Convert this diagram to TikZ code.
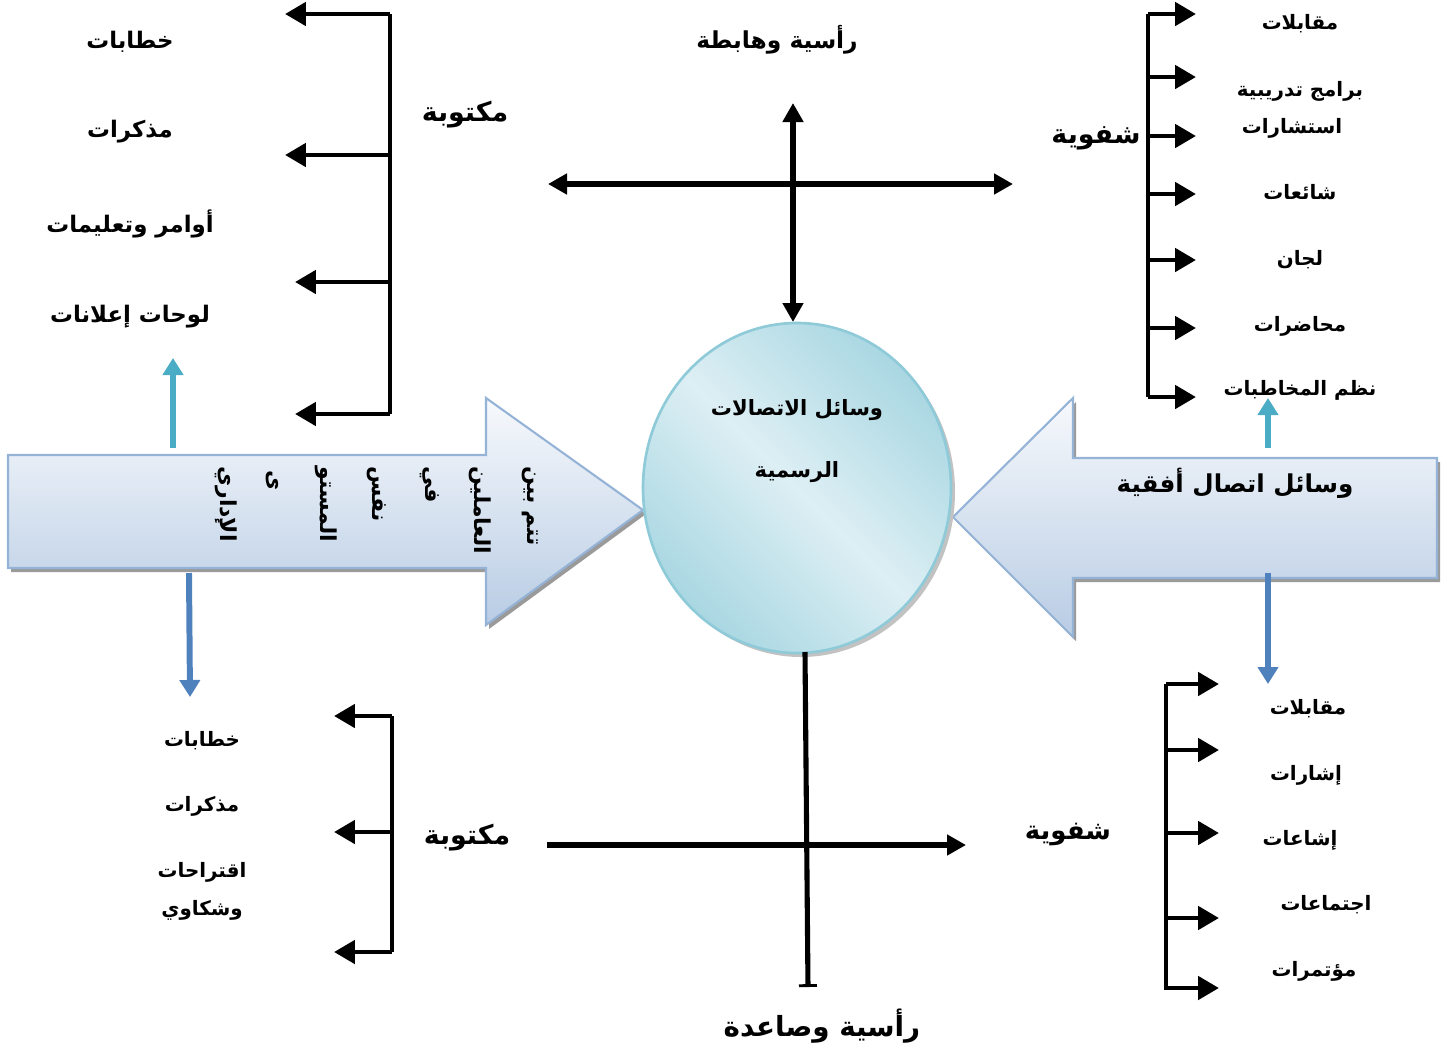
\documentclass[tikz,border=0pt]{standalone}
\usepackage{fontspec}
\usetikzlibrary{arrows.meta}
\TeXXeTstate=1
\newfontfamily\arabicfont[Script=Arabic,BoldFont={DejaVu Sans Bold}]{DejaVu Sans}
\newcommand{\ar}[1]{{\arabicfont\beginR #1\endR}}
\definecolor{tealup}{HTML}{4BACC6}
\definecolor{bluedown}{HTML}{4F81BD}
\definecolor{arrowedge}{HTML}{95B3D7}
\definecolor{arrowtop}{HTML}{F7F9FC}
\definecolor{arrowbot}{HTML}{B8CCE4}
\definecolor{discedge}{HTML}{8FCAD8}
\definecolor{discdark}{HTML}{A9D7E2}
\definecolor{disclight}{HTML}{DDEFF4}
\definecolor{shadowgray}{HTML}{9A9A9A}
\tikzset{
  x=0.02cm, y=-0.02cm,
  bar/.style={line width=2.8pt, black},
  branch/.style={line width=2.8pt, black, -{Triangle[length=4.2mm,width=4.6mm]}},
  crossline/.style={line width=2.9pt, black, {Triangle[length=3.8mm,width=4mm]}-{Triangle[length=3.8mm,width=4mm]}},
  solidline/.style={line width=2.9pt, black},
  kufi/.style={font=\arabicfont\bfseries\fontsize{13}{15}\selectfont, inner sep=0pt},
  item/.style={font=\arabicfont\bfseries\fontsize{11.3}{13}\selectfont, inner sep=0pt},
  title/.style={font=\arabicfont\bfseries\fontsize{13.3}{16}\selectfont, inner sep=0pt},
  bigtitle/.style={font=\arabicfont\bfseries\fontsize{15.3}{18}\selectfont, inner sep=0pt},
  vword/.style={font=\arabicfont\bfseries\fontsize{12.5}{14}\selectfont, inner sep=0pt, rotate=-90, anchor=west},
  upshaft/.style={line width=3.4pt, tealup, -{Triangle[length=3.4mm,width=4mm]}},
  downshaft/.style={line width=3.4pt, bluedown, -{Triangle[length=3.4mm,width=4mm]}},
}
\begin{document}
\begin{tikzpicture}
\useasboundingbox (0,0) rectangle (1445,1056);

% ---------- big block arrows with soft shadow ----------
\fill[shadowgray] (11,459) -- (489,459) -- (489,402) -- (646,514) -- (489,629) -- (489,572) -- (11,572) -- cycle;
\shade[top color=arrowtop, bottom color=arrowbot, draw=arrowedge, line width=1.2pt]
  (8,455) -- (486,455) -- (486,398) -- (643,510) -- (486,625) -- (486,568) -- (8,568) -- cycle;

\fill[shadowgray] (956,521) -- (1076,402) -- (1076,462) -- (1440,462) -- (1440,582) -- (1076,582) -- (1076,641) -- cycle;
\shade[top color=arrowtop, bottom color=arrowbot, draw=arrowedge, line width=1.2pt]
  (953,517) -- (1073,398) -- (1073,458) -- (1437,458) -- (1437,578) -- (1073,578) -- (1073,637) -- cycle;

% ---------- central disc ----------
\fill[shadowgray!60] (801,492) ellipse [x radius=154, y radius=165];
\shade[left color=discdark, right color=discdark, middle color=disclight, shading angle=-45,
       draw=discedge, line width=1.5pt]
  (797,488) ellipse [x radius=154, y radius=165];
\node[kufi, font=\arabicfont\bfseries\fontsize{12}{14}\selectfont] (disc1) at (797,410) {\ar{وسائل الاتصالات}};
\node[kufi, font=\arabicfont\bfseries\fontsize{12}{14}\selectfont] (disc2) at (797,472) {\ar{الرسمية}};
\coordinate (discN) at (793,322);
\coordinate (discS) at (805,652);

% ---------- vertical words inside the left arrow ----------
\node[vword] (w1) at (530,466) {\ar{تتم بين}};
\node[vword] (w2) at (480,466) {\ar{العاملين}};
\node[vword] (w3) at (430,466) {\ar{في}};
\node[vword] (w4) at (377,466) {\ar{نفس}};
\node[vword] (w5) at (326,466) {\ar{المستو}};
\node[vword] (w6) at (272,470) {\ar{ى}};
\node[vword] (w7) at (226,466) {\ar{الإداري}};

\node[font=\arabicfont\bfseries\fontsize{14}{16}\selectfont, inner sep=0pt] (horiz) at (1235,483) {\ar{وسائل اتصال أفقية}};

% ---------- top cross: downward / upward flow ----------
\coordinate (crossW) at (548,184);
\coordinate (crossE) at (1013,184);
\coordinate (crossN) at (793,103);
\draw[crossline] (crossW) -- (crossE);
\draw[crossline] (crossN) -- (discN);
\node[title] (down) at (777,40) {\ar{رأسية وهابطة}};

% ---------- top-left bracket: written ----------
\coordinate (tlTop) at (390,14);
\coordinate (tlBot) at (390,414);
\draw[bar] (tlTop) -- (tlBot);
\foreach \i/\yy/\xx in {1/14/285,2/155/285,3/282/295,4/414/295}{
  \coordinate (tlS\i) at (390,\yy);
  \coordinate (tlE\i) at (\xx,\yy);
  \draw[branch] (tlS\i) -- (tlE\i);
}
\node[bigtitle] (tlHead) at (465,115) {\ar{مكتوبة}};
\node[kufi] (tl1) at (130,42) {\ar{خطابات}};
\node[kufi] (tl2) at (130,132) {\ar{مذكرات}};
\node[kufi] (tl3) at (130,224) {\ar{أوامر وتعليمات}};
\node[kufi] (tl4) at (130,317) {\ar{لوحات إعلانات}};

% ---------- top-right bracket: oral ----------
\coordinate (trTop) at (1148,14);
\coordinate (trBot) at (1148,397);
\draw[bar] (trTop) -- (trBot);
\foreach \i/\yy in {1/14,2/77,3/136,4/194,5/260,6/328,7/397}{
  \coordinate (trS\i) at (1148,\yy);
  \coordinate (trE\i) at (1196,\yy);
  \draw[branch] (trS\i) -- (trE\i);
}
\node[bigtitle] (trHead) at (1096,138) {\ar{شفوية}};
\node[item] (tr1) at (1300,24) {\ar{مقابلات}};
\node[item] (tr2) at (1300,91) {\ar{برامج تدريبية}};
\node[item] (tr3) at (1292,128) {\ar{استشارات}};
\node[item] (tr4) at (1300,192) {\ar{شائعات}};
\node[item] (tr5) at (1300,260) {\ar{لجان}};
\node[item] (tr6) at (1300,326) {\ar{محاضرات}};
\node[item] (tr7) at (1300,390) {\ar{نظم المخاطبات}};

% ---------- coloured pointers from the block arrows ----------
\coordinate (lUpA) at (173,448);  \coordinate (lUpB) at (173,358);
\coordinate (lDnA) at (189,573);  \coordinate (lDnB) at (190,697);
\coordinate (rUpA) at (1268,448); \coordinate (rUpB) at (1268,398);
\coordinate (rDnA) at (1268,573); \coordinate (rDnB) at (1268,684);
\draw[upshaft] (lUpA) -- (lUpB);
\draw[downshaft] (lDnA) -- (lDnB);
\draw[upshaft] (rUpA) -- (rUpB);
\draw[downshaft] (rDnA) -- (rDnB);

% ---------- bottom cross: upward flow ----------
\coordinate (baseS) at (808,987);
\coordinate (crossW2) at (547,845);
\coordinate (crossE2) at (966,845);
\draw[solidline, -{Bar[width=3.6mm,line width=1.6pt]}] (discS) -- (baseS);
\draw[solidline, -{Triangle[length=3.8mm,width=4mm]}] (crossW2) -- (crossE2);
\node[bigtitle, font=\arabicfont\bfseries\fontsize{15.8}{19}\selectfont] (up) at (822,1026) {\ar{رأسية وصاعدة}};
\node[bigtitle] (blHead) at (467,838) {\ar{مكتوبة}};
\node[bigtitle, font=\arabicfont\bfseries\fontsize{14.8}{18}\selectfont] (brHead) at (1068,835) {\ar{شفوية}};

% ---------- bottom-left bracket: written ----------
\coordinate (blTop) at (392,716);
\coordinate (blBot) at (392,952);
\draw[bar] (blTop) -- (blBot);
\foreach \i/\yy in {1/716,2/832,3/952}{
  \coordinate (blS\i) at (392,\yy);
  \coordinate (blE\i) at (334,\yy);
  \draw[branch] (blS\i) -- (blE\i);
}
\node[item] (bl1) at (202,741) {\ar{خطابات}};
\node[item] (bl2) at (202,806) {\ar{مذكرات}};
\node[item] (bl3) at (202,872) {\ar{اقتراحات}};
\node[item] (bl4) at (202,910) {\ar{وشكاوي}};

% ---------- bottom-right bracket: oral ----------
\coordinate (brTop) at (1166,684);
\coordinate (brBot) at (1166,990);
\draw[bar] (brTop) -- (brBot);
\foreach \i/\yy in {1/684,2/750,3/833,4/918,5/988}{
  \coordinate (brS\i) at (1166,\yy);
  \coordinate (brE\i) at (1219,\yy);
  \draw[branch] (brS\i) -- (brE\i);
}
\node[item] (br1) at (1308,709) {\ar{مقابلات}};
\node[item] (br2) at (1306,775) {\ar{إشارات}};
\node[item] (br3) at (1300,840) {\ar{إشاعات}};
\node[item] (br4) at (1326,905) {\ar{اجتماعات}};
\node[item] (br5) at (1314,971) {\ar{مؤتمرات}};
\end{tikzpicture}
\end{document}
